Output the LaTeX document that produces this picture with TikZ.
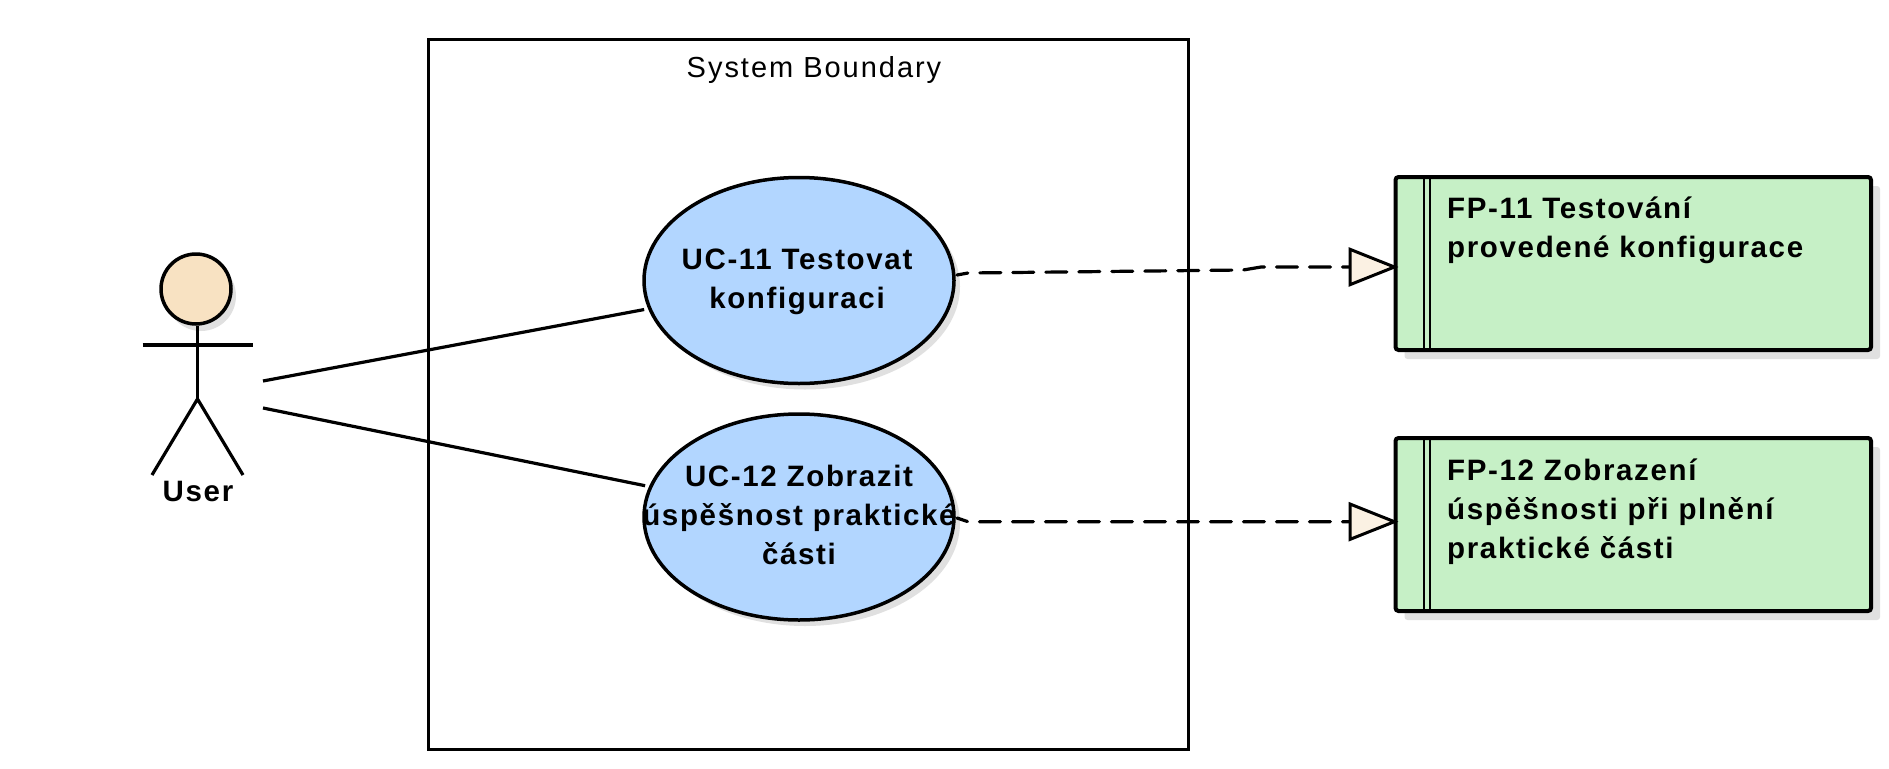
\documentclass[tikz,border=0pt]{standalone}
\usepackage{fontspec}
\setmainfont[LetterSpace=5.6]{Liberation Sans}
\usetikzlibrary{arrows.meta,shapes.geometric,shadows}
\definecolor{headfill}{HTML}{F8E2C2}
\definecolor{ucfill}{HTML}{B2D6FF}
\definecolor{fpfill}{HTML}{C6F0C6}
\definecolor{tipfill}{HTML}{FBF1E3}
\definecolor{shade}{HTML}{E0E0E0}
\tikzset{
  x=1pt,y=-1pt,
  stroke/.style={draw=black,line width=3.5pt},
  boundary/.style={draw=black,line width=3pt,rectangle,inner sep=0pt,minimum width=760pt,minimum height=709.5pt},
  usecase/.style={stroke,ellipse,fill=ucfill,inner sep=0pt,minimum width=310pt,minimum height=206pt,
    drop shadow={shadow xshift=6pt,shadow yshift=-6pt,fill=shade,opacity=1}},
  head/.style={stroke,circle,fill=headfill,inner sep=0pt,minimum size=70pt,
    drop shadow={shadow xshift=5pt,shadow yshift=-7pt,fill=shade,opacity=1}},
  feature/.style={draw=black,line width=4pt,rectangle,rounded corners=3pt,fill=fpfill,inner sep=0pt,
    minimum width=475.5pt,minimum height=173pt,
    drop shadow={shadow xshift=9pt,shadow yshift=-9pt,fill=shade,opacity=1}},
  bold label/.style={font=\fontsize{29.5}{39}\selectfont\bfseries,inner sep=0pt,align=center,text=black},
  fp label/.style={bold label,align=left,anchor=north west},
  plain label/.style={font=\addfontfeatures{LetterSpace=6.8}\fontsize{29}{39}\selectfont,inner sep=0pt,text=black},
  assoc/.style={draw=black,line width=3.2pt,shorten >=4pt},
  limb/.style={draw=black,line width=3.2pt},
  realize/.style={draw=black,line width=3.2pt,line cap=round,dash pattern=on 21pt off 12pt,dash phase=10pt,shorten >=-5pt,
    -{Triangle[length=50pt,width=39pt,fill=tipfill,line width=3pt]}},
}
\begin{document}
\begin{tikzpicture}
\useasboundingbox (0,0) rectangle (1889,768);
\fill[white] (0,0) rectangle (1889,768);

% system boundary
\node[boundary] (sys) at (808,394.5) {};
\node[plain label] (systext) at (814,70.5) {System Boundary};

% actor
\node[head] (acthead) at (196,289) {};
\coordinate (hip) at (197.5,399);
\coordinate (armL) at (142.5,345);
\coordinate (armR) at (252.5,345);
\coordinate (legL) at (152,475);
\coordinate (legR) at (243,475);
\draw[limb] (acthead.south) ++(1.5pt,0) -- (hip);
\draw[limb] (armL) -- (armR);
\draw[limb] (legL) -- (hip) -- (legR);
\node[bold label] (user) at (198,491) {User};

% use cases
\node[usecase] (uc11) at (799,280.5) {};
\node[usecase] (uc12) at (799,517) {};
\node[bold label] (uc11text) at (797,281.5) {UC-11 Testovat\\konfiguraci};
\node[bold label] (uc12text) at (799,515) {UC-12 Zobrazit\\úspěšnost praktické\\části};

% functional requirements
\node[feature] (fp11) at (1633.25,263.5) {};
\node[feature] (fp12) at (1633.25,524.5) {};
\draw[line width=2pt] ([xshift=30pt]fp11.north west) -- ([xshift=30pt]fp11.south west);
\draw[line width=2pt] ([xshift=36pt]fp11.north west) -- ([xshift=36pt]fp11.south west);
\draw[line width=2pt] ([xshift=30pt]fp12.north west) -- ([xshift=30pt]fp12.south west);
\draw[line width=2pt] ([xshift=36pt]fp12.north west) -- ([xshift=36pt]fp12.south west);
\node[fp label] (fp11text) at (1447,197) {FP-11 Testování\\provedené konfigurace};
\node[fp label] (fp12text) at (1447,458.5) {FP-12 Zobrazení\\úspěšnosti při plnění\\praktické části};

% connectors
\coordinate (a1) at (263,381);
\coordinate (a2) at (263,408);
\draw[assoc] (a1) -- (uc11);
\draw[assoc] (a2) -- (uc12);

\coordinate (d1) at (957,275);
\coordinate (d2) at (968,273);
\coordinate (d3) at (1243,270);
\coordinate (d4) at (1261,267);
\draw[realize] (d1) -- (d2) -- (d3) -- (d4) -- (d4 -| fp11.west);
\coordinate (e1) at (957,518);
\coordinate (e2) at (968,521.7);
\draw[realize] (e1) -- (e2) -- (e2 -| fp12.west);
\end{tikzpicture}
\end{document}
